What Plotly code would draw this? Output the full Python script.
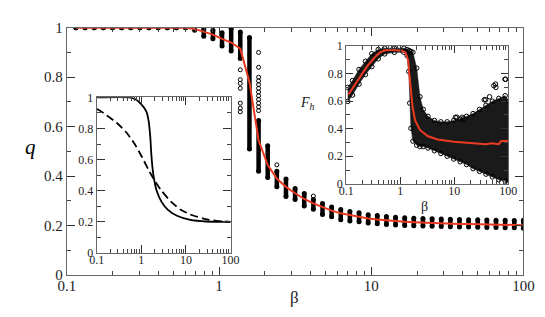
import plotly.graph_objects as go

# ---------------- data: main panel ----------------
main_beta = [0.1148, 0.1318, 0.1514, 0.1738, 0.1995, 0.2291, 0.2630, 0.3020, 0.3467, 0.3981,
             0.4571, 0.5248, 0.6026, 0.6918, 0.7943, 0.9120, 1.047, 1.202, 1.380, 1.585,
             1.820, 2.089, 2.399, 2.754, 3.162, 3.631, 4.169, 4.786, 5.495, 6.310,
             7.244, 8.318, 9.550, 10.96, 12.59, 14.45, 16.60, 19.05, 21.88, 25.12,
             28.84, 33.11, 38.02, 43.65, 50.12, 57.54, 66.07, 75.86, 87.10, 100.0]
q_lo = [1.0, 1.0, 1.0, 1.0, 1.0, 1.0, 1.0, 1.0, 1.0, 1.0, 1.0, 1.0, 1.0,
        0.99, 0.965, 0.955, 0.926, 0.906, 0.875, 0.51, 0.42, 0.395, 0.357, 0.318, 0.306,
        0.28, 0.267, 0.245, 0.236, 0.224, 0.219, 0.216, 0.211, 0.208, 0.205, 0.203, 0.201,
        0.2, 0.199, 0.198, 0.197, 0.196, 0.195, 0.195, 0.194, 0.193, 0.193, 0.192, 0.192, 0.19]
q_hi = [1.0, 1.0, 1.0, 1.0, 1.0, 1.0, 1.0, 1.0, 1.0, 1.0, 1.0, 1.0, 1.0,
        1.0, 0.995, 0.99, 0.98, 0.997, 0.983, 0.96, 0.625, 0.523, 0.42, 0.389, 0.35,
        0.33, 0.306, 0.29, 0.276, 0.266, 0.257, 0.252, 0.244, 0.241, 0.237, 0.234, 0.232,
        0.23, 0.229, 0.228, 0.227, 0.226, 0.225, 0.224, 0.224, 0.223, 0.222, 0.222, 0.221, 0.222]
q_mean = [1.0, 1.0, 1.0, 1.0, 1.0, 1.0, 1.0, 1.0, 1.0, 1.0, 1.0, 1.0, 1.0,
          0.995, 0.985, 0.972, 0.955, 0.94, 0.915, 0.78, 0.545, 0.445, 0.39, 0.357, 0.331,
          0.308, 0.29, 0.274, 0.261, 0.25, 0.242, 0.235, 0.229, 0.225, 0.221, 0.218, 0.216,
          0.214, 0.212, 0.211, 0.21, 0.209, 0.207, 0.207, 0.206, 0.205, 0.204, 0.203, 0.202, 0.202]
stray_beta = [1.380, 1.380, 1.380, 1.380, 1.380, 1.380, 1.380,
              1.820, 1.820, 1.820, 1.820, 1.820, 1.820, 1.820, 1.820, 1.820, 1.820, 1.820, 1.820,
              2.399, 4.169]
stray_q = [0.83, 0.79, 0.775, 0.755, 0.695, 0.675, 0.66,
           0.9, 0.84, 0.80, 0.785, 0.77, 0.755, 0.74, 0.725, 0.71, 0.695, 0.68, 0.665,
           0.446, 0.32]

# ---------------- data: left inset ----------------
solid_beta = [0.1, 0.54, 0.755, 1.05, 1.30, 1.46, 1.59, 1.67, 1.79, 1.94, 2.21, 2.84, 3.95, 6.5, 12.6, 28.8, 100]
solid_q = [1.0, 1.0, 0.986, 0.949, 0.909, 0.848, 0.746, 0.644, 0.543, 0.472, 0.40, 0.329, 0.278, 0.238, 0.213, 0.203, 0.201]
dashed_beta = [0.1, 0.112, 0.17, 0.28, 0.46, 0.695, 1.05, 1.46, 2.04, 2.84, 4.67, 7.67, 12.6, 24.5, 47.4, 100]
dashed_q = [0.925, 0.919, 0.884, 0.837, 0.776, 0.705, 0.614, 0.533, 0.461, 0.40, 0.329, 0.278, 0.248, 0.222, 0.207, 0.201]

# ---------------- data: right inset ----------------
fh_beta = [0.11, 0.14, 0.185, 0.243, 0.32, 0.42, 0.55, 0.73, 1.09, 1.25, 1.40, 1.47, 1.58, 1.70, 1.89,
           2.32, 3.27, 4.93, 9.8, 19.4, 38.4, 50, 66, 74, 100]
fh_mean = [0.648, 0.713, 0.782, 0.851, 0.908, 0.954, 0.972, 0.972, 0.966, 0.954, 0.897, 0.805, 0.667, 0.552, 0.46,
           0.391, 0.345, 0.322, 0.306, 0.299, 0.288, 0.295, 0.288, 0.31, 0.31]
env_beta = [0.107, 0.131, 0.173, 0.227, 0.298, 0.392, 0.516, 0.78, 1.17, 1.34, 1.44, 1.50, 1.58, 1.72,
            2.02, 2.32, 2.67, 3.27, 4.29, 5.66, 7.4, 9.8, 12.9, 16.9, 22.3, 29.3, 38.6, 50.7, 66.6, 87.6, 100]
env_lo = [0.598, 0.644, 0.724, 0.793, 0.851, 0.908, 0.943, 0.955, 0.955, 0.931, 0.816, 0.586, 0.403, 0.31,
          0.28, 0.27, 0.27, 0.26, 0.24, 0.22, 0.20, 0.18, 0.16, 0.14, 0.11, 0.09, 0.07, 0.05, 0.03, 0.02, 0.01]
env_hi = [0.70, 0.75, 0.83, 0.89, 0.945, 0.975, 0.985, 0.985, 0.985, 0.975, 0.966, 0.966, 0.96, 0.955,
          0.84, 0.632, 0.54, 0.49, 0.46, 0.45, 0.45, 0.46, 0.47, 0.49, 0.51, 0.54, 0.57, 0.60, 0.62, 0.64, 0.60]
fh_stray_beta = [10.5, 11.2, 14.0, 14.7, 35.8, 38, 45, 54, 58, 59, 87, 89]
fh_stray_q = [0.483, 0.483, 0.483, 0.472, 0.61, 0.61, 0.632, 0.713, 0.724, 0.70, 0.759, 0.759]

# ---------------- ticks ----------------
x_tickvals = [0.1, 1, 10, 100]
x_ticktext = ["0.1", "1", "10", "100"]
x_minor = [0.2, 0.3, 0.4, 0.5, 0.6, 0.7, 0.8, 0.9, 2, 3, 4, 5, 6, 7, 8, 9, 20, 30, 40, 50, 60, 70, 80, 90]
y_tickvals = [0, 0.2, 0.4, 0.6, 0.8, 1]
y_ticktext = ["0", "0.2", "0.4", "0.6", "0.8", "1"]
y_minor = [0.1, 0.3, 0.5, 0.7, 0.9]

RED = "#ec3a22"
FONT = "Liberation Serif, Times New Roman, serif"

fig = go.Figure()

# main panel: columns of stacked circles drawn as thick segments
seg_x, seg_y = [], []
for b, lo, hi in zip(main_beta, q_lo, q_hi):
    seg_x += [b, b, None]
    seg_y += [lo, hi, None]
fig.add_trace(go.Scatter(x=seg_x, y=seg_y, mode="lines", xaxis="x", yaxis="y",
                         line=dict(color="black", width=4.5)))
fig.add_trace(go.Scatter(
    x=main_beta + main_beta, y=q_lo + q_hi, mode="markers", xaxis="x", yaxis="y",
    marker=dict(symbol="circle", size=5, color="black", line=dict(width=0))))
fig.add_trace(go.Scatter(
    x=stray_beta, y=stray_q, mode="markers", xaxis="x", yaxis="y",
    marker=dict(symbol="circle-open", size=4, color="black", line=dict(width=1))))
fig.add_trace(go.Scatter(
    x=main_beta, y=q_mean, mode="lines", xaxis="x", yaxis="y",
    line=dict(color=RED, width=2)))

# left inset
fig.add_trace(go.Scatter(
    x=solid_beta, y=solid_q, mode="lines", xaxis="x2", yaxis="y2",
    line=dict(color="black", width=1.8, shape="spline", smoothing=0.5)))
fig.add_trace(go.Scatter(
    x=dashed_beta, y=dashed_q, mode="lines", xaxis="x2", yaxis="y2",
    line=dict(color="black", width=1.8, dash="8px,4px", shape="spline", smoothing=0.5)))

# right inset: cloud of open circles
fig.add_trace(go.Scatter(
    x=env_beta, y=env_lo, mode="lines", xaxis="x3", yaxis="y3",
    line=dict(color="#1a1a1a", width=0.5)))
fig.add_trace(go.Scatter(
    x=env_beta, y=env_hi, mode="lines", xaxis="x3", yaxis="y3",
    fill="tonexty", fillcolor="#1a1a1a", line=dict(color="#1a1a1a", width=0.5)))
fig.add_trace(go.Scatter(
    x=env_beta + env_beta, y=env_lo + env_hi, mode="markers", xaxis="x3", yaxis="y3",
    marker=dict(symbol="circle-open", size=4.5, color="black", line=dict(width=1))))
fig.add_trace(go.Scatter(
    x=fh_stray_beta, y=fh_stray_q, mode="markers", xaxis="x3", yaxis="y3",
    marker=dict(symbol="circle-open", size=4.5, color="black", line=dict(width=1))))
fig.add_trace(go.Scatter(
    x=fh_beta, y=fh_mean, mode="lines", xaxis="x3", yaxis="y3",
    line=dict(color=RED, width=2)))


def xaxis(domain, anchor, size, major, minor, standoff):
    return dict(type="log", range=[-1, 2], domain=domain, anchor=anchor,
                showline=True, linecolor="#666", linewidth=1, mirror="allticks",
                ticks="inside", ticklen=major, tickcolor="#333", tickwidth=1,
                tickmode="array", tickvals=x_tickvals, ticktext=x_ticktext,
                tickfont=dict(family=FONT, size=size, color="#222"),
                ticklabelstandoff=standoff,
                showgrid=False, zeroline=False,
                minor=dict(ticks="inside", ticklen=minor, tickcolor="#444",
                           tickmode="array", tickvals=x_minor, showgrid=False))


def yaxis(domain, anchor, size, major, minor):
    return dict(range=[0, 1], domain=domain, anchor=anchor,
                showline=True, linecolor="#666", linewidth=1, mirror="allticks",
                ticks="inside", ticklen=major, tickcolor="#333", tickwidth=1,
                tickmode="array", tickvals=y_tickvals, ticktext=y_ticktext,
                tickfont=dict(family=FONT, size=size, color="#222"),
                showgrid=False, zeroline=False,
                minor=dict(ticks="inside", ticklen=minor, tickcolor="#444",
                           tickmode="array", tickvals=y_minor, showgrid=False))


W, H = 545, 317
ann_font = dict(family=FONT, color="#222")
fig.update_layout(
    width=W, height=H, margin=dict(l=0, r=0, t=0, b=0),
    paper_bgcolor="white", plot_bgcolor="white", showlegend=False,
    xaxis=xaxis([51.7 / W, 525.7 / W], "y", 15, 8, 4, -3),
    yaxis=yaxis([1 - 273 / H, 1 - 12.3 / H], "x", 15, 8, 4),
    xaxis2=xaxis([82.7 / W, 221.7 / W], "y2", 12, 8, 4, -4),
    yaxis2=yaxis([1 - 249.7 / H, 1 - 85.7 / H], "x2", 12, 8, 4),
    xaxis3=xaxis([341.7 / W, 510 / W], "y3", 12, 7, 4, -4),
    yaxis3=yaxis([1 - 176.7 / H, 1 - 31.7 / H], "x3", 12, 7, 4),
    annotations=[
        dict(text="<i>q</i>", x=14 / W, y=1 - 138 / H, xref="paper", yref="paper",
             xanchor="center", yanchor="middle", showarrow=False,
             font=dict(ann_font, size=21, color="black")),
        dict(text="β", x=288 / W, y=1 - 296 / H, xref="paper", yref="paper",
             xanchor="center", yanchor="middle", showarrow=False,
             font=dict(ann_font, size=17)),
        dict(text="β", x=423 / W, y=1 - 201 / H, xref="paper", yref="paper",
             xanchor="center", yanchor="middle", showarrow=False,
             font=dict(ann_font, size=14)),
        dict(text="<i>F</i><sub><i>h</i></sub>", x=302 / W, y=1 - 92 / H, xref="paper", yref="paper",
             xanchor="center", yanchor="middle", showarrow=False,
             font=dict(ann_font, size=14)),
    ],
)

fig.write_html("out.html")
